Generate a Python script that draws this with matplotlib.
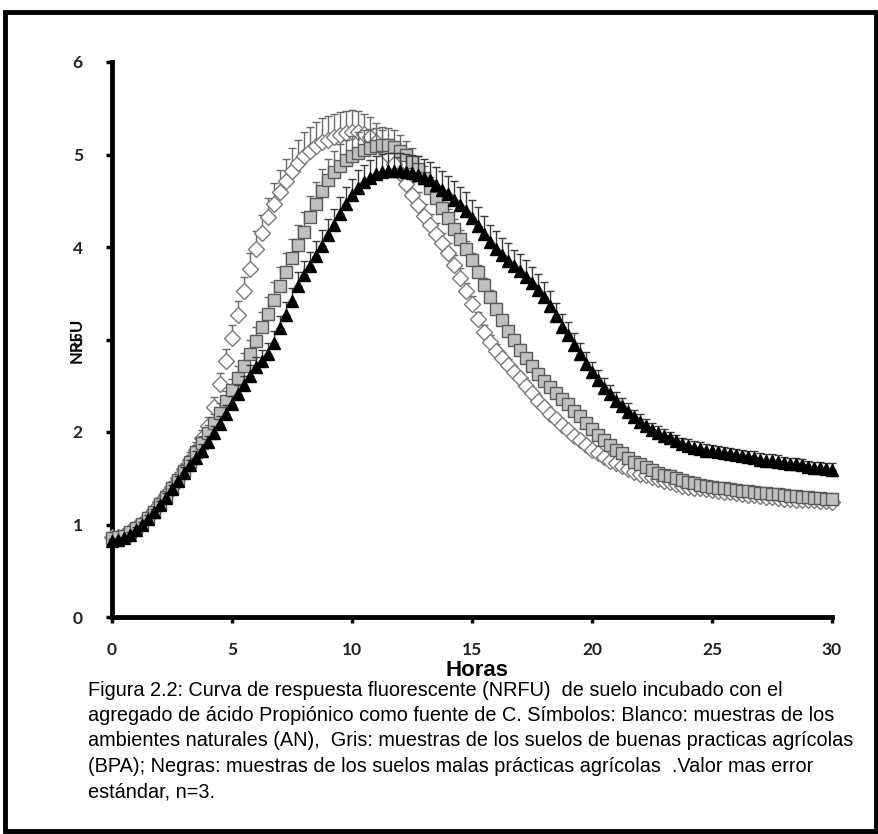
import numpy as np
import matplotlib
matplotlib.use("Agg")
from matplotlib import pyplot as plt
from matplotlib.patches import Rectangle

# hours, one reading every 15 min (0 .. 30 h)
horas = np.arange(121) / 4.0

# Blanco: ambientes naturales (AN)  -- one row per hour
an = [0.86, 0.87, 0.89, 0.93,
      0.97, 1.02, 1.08, 1.16,
      1.24, 1.32, 1.41, 1.50,
      1.60, 1.70, 1.81, 1.93,
      2.06, 2.27, 2.52, 2.77,
      3.02, 3.27, 3.52, 3.76,
      3.98, 4.15, 4.32, 4.47,
      4.60, 4.71, 4.82, 4.91,
      4.98, 5.04, 5.09, 5.13,
      5.16, 5.19, 5.21, 5.23,
      5.24, 5.24, 5.22, 5.19,
      5.14, 5.07, 4.99, 4.90,
      4.80, 4.68, 4.56, 4.45,
      4.34, 4.24, 4.14, 4.04,
      3.93, 3.81, 3.67, 3.52,
      3.38, 3.22, 3.08, 2.97,
      2.88, 2.80, 2.72, 2.65,
      2.58, 2.50, 2.42, 2.34,
      2.27, 2.20, 2.14, 2.08,
      2.02, 1.96, 1.91, 1.86,
      1.81, 1.77, 1.73, 1.69,
      1.66, 1.63, 1.60, 1.57,
      1.55, 1.53, 1.51, 1.49,
      1.47, 1.46, 1.44, 1.42,
      1.41, 1.40, 1.39, 1.38,
      1.37, 1.36, 1.35, 1.35,
      1.34, 1.33, 1.32, 1.32,
      1.31, 1.30, 1.30, 1.29,
      1.28, 1.28, 1.27, 1.27,
      1.26, 1.26, 1.25, 1.25,
      1.24]
an_err = [0.03, 0.03, 0.03, 0.04,
          0.04, 0.04, 0.05, 0.05,
          0.05, 0.06, 0.06, 0.07,
          0.07, 0.08, 0.08, 0.09,
          0.10, 0.11, 0.12, 0.13,
          0.14, 0.15, 0.16, 0.17,
          0.19, 0.20, 0.21, 0.22,
          0.23, 0.24, 0.25, 0.25,
          0.26, 0.26, 0.26, 0.26,
          0.26, 0.25, 0.25, 0.24,
          0.24, 0.23, 0.22, 0.21,
          0.20, 0.19, 0.18, 0.17,
          0.16, 0.15, 0.14, 0.14,
          0.13, 0.12, 0.12, 0.11,
          0.11, 0.10, 0.10, 0.09,
          0.09, 0.08, 0.08, 0.08,
          0.07, 0.07, 0.07, 0.06,
          0.06, 0.06, 0.06, 0.06,
          0.05, 0.05, 0.05, 0.05,
          0.05, 0.05, 0.05, 0.05,
          0.05, 0.05, 0.05, 0.05,
          0.04, 0.04, 0.04, 0.04,
          0.04, 0.04, 0.04, 0.04,
          0.04, 0.04, 0.04, 0.04,
          0.04, 0.04, 0.04, 0.04,
          0.04, 0.04, 0.04, 0.04,
          0.04, 0.04, 0.04, 0.04,
          0.04, 0.04, 0.04, 0.04,
          0.04, 0.04, 0.04, 0.04,
          0.04, 0.04, 0.04, 0.04,
          0.04]

# Gris: buenas practicas agricolas (BPA)
bpa = [0.85, 0.86, 0.88, 0.92,
       0.96, 1.01, 1.07, 1.14,
       1.22, 1.30, 1.39, 1.48,
       1.58, 1.68, 1.78, 1.88,
       1.99, 2.10, 2.21, 2.33,
       2.45, 2.58, 2.71, 2.84,
       2.98, 3.13, 3.28, 3.43,
       3.58, 3.73, 3.88, 4.02,
       4.16, 4.32, 4.47, 4.61,
       4.72, 4.81, 4.88, 4.94,
       4.98, 5.02, 5.05, 5.07,
       5.09, 5.10, 5.10, 5.08,
       5.04, 4.99, 4.92, 4.84,
       4.75, 4.64, 4.53, 4.42,
       4.31, 4.20, 4.09, 3.98,
       3.86, 3.73, 3.59, 3.46,
       3.33, 3.21, 3.09, 2.99,
       2.89, 2.80, 2.71, 2.63,
       2.55, 2.49, 2.42, 2.36,
       2.30, 2.23, 2.17, 2.10,
       2.03, 1.97, 1.91, 1.86,
       1.81, 1.77, 1.72, 1.68,
       1.65, 1.62, 1.59, 1.56,
       1.54, 1.52, 1.50, 1.48,
       1.46, 1.45, 1.43, 1.42,
       1.41, 1.40, 1.39, 1.38,
       1.37, 1.36, 1.36, 1.35,
       1.34, 1.34, 1.33, 1.33,
       1.32, 1.31, 1.31, 1.30,
       1.30, 1.29, 1.29, 1.28,
       1.28]
bpa_err = [0.03, 0.03, 0.03, 0.03,
           0.04, 0.04, 0.04, 0.05,
           0.05, 0.05, 0.06, 0.06,
           0.07, 0.07, 0.08, 0.08,
           0.09, 0.10, 0.10, 0.11,
           0.12, 0.13, 0.14, 0.15,
           0.16, 0.17, 0.18, 0.19,
           0.20, 0.21, 0.21, 0.22,
           0.22, 0.23, 0.23, 0.23,
           0.23, 0.23, 0.23, 0.22,
           0.22, 0.22, 0.21, 0.21,
           0.20, 0.20, 0.19, 0.18,
           0.17, 0.16, 0.15, 0.14,
           0.13, 0.12, 0.12, 0.11,
           0.10, 0.10, 0.09, 0.09,
           0.08, 0.08, 0.07, 0.07,
           0.07, 0.06, 0.06, 0.06,
           0.06, 0.05, 0.05, 0.05,
           0.05, 0.05, 0.05, 0.05,
           0.05, 0.05, 0.04, 0.04,
           0.04, 0.04, 0.04, 0.04,
           0.04, 0.04, 0.04, 0.04,
           0.04, 0.04, 0.04, 0.04,
           0.04, 0.04, 0.04, 0.04,
           0.04, 0.04, 0.04, 0.04,
           0.04, 0.04, 0.04, 0.04,
           0.04, 0.04, 0.04, 0.04,
           0.04, 0.04, 0.04, 0.04,
           0.04, 0.04, 0.04, 0.04,
           0.04, 0.04, 0.04, 0.04,
           0.04]

# Negras: malas practicas agricolas
mpa = [0.82, 0.83, 0.85, 0.89,
       0.94, 1.00, 1.06, 1.13,
       1.21, 1.29, 1.38, 1.47,
       1.56, 1.64, 1.72, 1.80,
       1.89, 1.99, 2.09, 2.20,
       2.30, 2.41, 2.51, 2.61,
       2.70, 2.77, 2.84, 2.96,
       3.12, 3.27, 3.42, 3.58,
       3.70, 3.79, 3.90, 4.01,
       4.13, 4.24, 4.36, 4.47,
       4.56, 4.64, 4.70, 4.75,
       4.79, 4.81, 4.82, 4.82,
       4.82, 4.81, 4.80, 4.78,
       4.75, 4.72, 4.67, 4.62,
       4.57, 4.51, 4.45, 4.39,
       4.31, 4.23, 4.14, 4.05,
       3.98, 3.91, 3.85, 3.79,
       3.74, 3.68, 3.61, 3.54,
       3.46, 3.36, 3.25, 3.14,
       3.05, 2.94, 2.84, 2.74,
       2.65, 2.56, 2.48, 2.41,
       2.34, 2.28, 2.22, 2.16,
       2.11, 2.06, 2.02, 1.99,
       1.96, 1.93, 1.90, 1.87,
       1.85, 1.83, 1.82, 1.80,
       1.79, 1.78, 1.77, 1.76,
       1.75, 1.74, 1.73, 1.72,
       1.70, 1.69, 1.69, 1.68,
       1.66, 1.65, 1.65, 1.64,
       1.62, 1.61, 1.61, 1.60,
       1.59]
mpa_err = [0.02, 0.02, 0.02, 0.03,
           0.03, 0.03, 0.04, 0.04,
           0.04, 0.05, 0.05, 0.05,
           0.06, 0.06, 0.07, 0.07,
           0.07, 0.08, 0.08, 0.09,
           0.09, 0.10, 0.10, 0.11,
           0.11, 0.12, 0.12, 0.13,
           0.13, 0.14, 0.14, 0.15,
           0.15, 0.16, 0.16, 0.17,
           0.17, 0.17, 0.18, 0.18,
           0.18, 0.19, 0.19, 0.19,
           0.19, 0.20, 0.20, 0.20,
           0.20, 0.20, 0.20, 0.20,
           0.20, 0.20, 0.20, 0.20,
           0.20, 0.20, 0.20, 0.20,
           0.20, 0.20, 0.20, 0.19,
           0.19, 0.19, 0.19, 0.18,
           0.18, 0.18, 0.17, 0.17,
           0.16, 0.16, 0.15, 0.14,
           0.14, 0.13, 0.12, 0.12,
           0.11, 0.11, 0.10, 0.10,
           0.09, 0.09, 0.09, 0.08,
           0.08, 0.08, 0.08, 0.08,
           0.07, 0.07, 0.07, 0.07,
           0.07, 0.07, 0.07, 0.07,
           0.07, 0.07, 0.07, 0.07,
           0.07, 0.07, 0.07, 0.07,
           0.07, 0.07, 0.07, 0.07,
           0.07, 0.07, 0.07, 0.07,
           0.07, 0.07, 0.07, 0.07,
           0.07]

x_ticks = [0, 5, 10, 15, 20, 25, 30]
y_ticks = [0, 1, 2, 3, 4, 5, 6]

caption = [
    "Figura 2.2: Curva de respuesta fluorescente (NRFU)  de suelo incubado con el",
    "agregado de ácido Propiónico como fuente de C. Símbolos: Blanco: muestras de los",
    "ambientes naturales (AN),  Gris: muestras de los suelos de buenas practicas agrícolas",
    "(BPA); Negras: muestras de los suelos malas prácticas agrícolas  .Valor mas error",
    "estándar, n=3.",
]

W, H = 879, 834
fig = plt.figure(figsize=(W / 100, H / 100), dpi=100)
ax = fig.add_axes([112 / W, 1 - 617 / H, 720 / W, 555 / H])

def serie(y, err, marker, ms, fc, ec, ecol, z):
    y = np.array(y)
    e = np.array(err)
    ax.errorbar(horas, y, yerr=[np.zeros_like(e), e], fmt=marker, ms=ms,
                mfc=fc, mec=ec, mew=1.0, ecolor=ecol, elinewidth=1.0,
                capsize=3, capthick=1.0, clip_on=False, zorder=z)

serie(an, an_err, 'D', 8.0, 'white', '#7a7a7a', '#6a6a6a', 3)
serie(bpa, bpa_err, 's', 9.0, '#c0c0c0', '#5a5a5a', '#6a6a6a', 4)
serie(mpa, mpa_err, '^', 9.2, 'black', 'black', '#3a3a3a', 5)

ax.set_xlim(0, 30)
ax.set_ylim(0, 6)
ax.set_xticks(x_ticks)
ax.set_yticks(y_ticks)
for s in ['top', 'right']:
    ax.spines[s].set_visible(False)
for s in ['left', 'bottom']:
    ax.spines[s].set_linewidth(3.5)
ax.tick_params(direction='out', length=4, width=2.5, color='black')
ax.tick_params(axis='x', pad=14)
ax.tick_params(axis='y', pad=17)
for lab in ax.get_xticklabels() + ax.get_yticklabels():
    lab.set_fontfamily(['Lato', 'DejaVu Sans'])
    lab.set_fontweight('bold')
    lab.set_fontsize(12.5)
    lab.set_color('#222222')

fig.text(77 / W, 1 - 340 / H, 'NRFU', rotation=90, ha='center', va='center',
         fontsize=12, fontweight='bold', family=['Lato', 'DejaVu Sans'])

sans = ['Liberation Sans', 'DejaVu Sans']
fig.text(477 / W, 1 - 671 / H, 'Horas', ha='center', va='center',
         fontsize=16, fontweight='bold', family=sans)

for i, line in enumerate(caption):
    fig.text(88 / W, 1 - (690 + 25.5 * i) / H, line, ha='left', va='center',
             fontsize=14.3, family=sans)

fig.patches.append(Rectangle((5 / W, 1 - 831 / H), 871 / W, 819 / H,
                             transform=fig.transFigure, fill=False,
                             lw=3.5, ec='black'))

fig.savefig('out.png', dpi=100)
